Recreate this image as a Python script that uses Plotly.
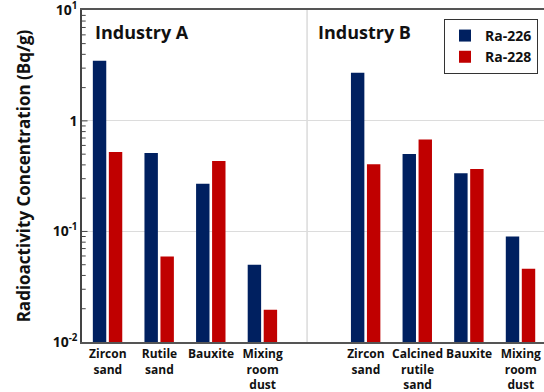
import plotly.graph_objects as go

# Sample categories, laid out as two industry panels on one shared axis
industry_a = ["Zircon<br>sand", "Rutile<br>sand", "Bauxite", "Mixing<br>room<br>dust"]
industry_b = ["Zircon<br>sand", "Calcined<br>rutile<br>sand", "Bauxite", "Mixing<br>room<br>dust"]
positions = [0, 1, 2, 3, 5, 6, 7, 8]
categories = industry_a + industry_b

# Radioactivity concentration (Bq/g)
ra226 = [3.5, 0.513, 0.270, 0.0499, 2.72, 0.502, 0.336, 0.090]
ra228 = [0.524, 0.0593, 0.434, 0.0196, 0.405, 0.678, 0.367, 0.0459]

y_tickvals = [0.01, 0.1, 1, 10]
y_ticktext = ["10<sup>-2</sup>", "10<sup>-1</sup>", "1", "10<sup>1</sup>"]
# minor ticks at 2..9 within each decade
y_minor = [m * d for d in (0.01, 0.1, 1) for m in range(2, 10)]

NAVY = "#002060"
RED = "#C00000"
FONT = "Open Sans"
Y_RANGE = [-2, 1.003]

fig = go.Figure()
fig.add_trace(go.Bar(
    x=positions, y=ra226, name="<b>Ra-226</b>", marker=dict(color=NAVY, line=dict(width=0)),
    width=0.26, offset=-0.29,
))
fig.add_trace(go.Bar(
    x=positions, y=ra228, name="<b>Ra-228</b>", marker=dict(color=RED, line=dict(width=0)),
    width=0.26, offset=0.02,
))

# Divider between the two industries
fig.add_shape(type="line", xref="x", yref="paper", x0=3.86, x1=3.86, y0=0, y1=1,
              line=dict(color="#c8c8c8", width=1), layer="below")

# Inward tick marks along the log axis (minor 2..9, major at each decade)
for v in y_minor:
    fig.add_shape(type="line", xref="paper", yref="y", x0=0, x1=0.008, y0=v, y1=v,
                  line=dict(color="#444", width=1))
for v in y_tickvals[1:3]:
    fig.add_shape(type="line", xref="paper", yref="y", x0=0, x1=0.012, y0=v, y1=v,
                  line=dict(color="#444", width=1))

fig.add_annotation(text="<b>Industry A</b>", xref="x", yref="paper", x=-0.28, y=0.975,
                   xanchor="left", yanchor="top", showarrow=False,
                   font=dict(family=FONT, size=18, color="#111"))
fig.add_annotation(text="<b>Industry B</b>", xref="x", yref="paper", x=4.03, y=0.975,
                   xanchor="left", yanchor="top", showarrow=False,
                   font=dict(family=FONT, size=18, color="#111"))

fig.update_layout(
    width=544, height=392,
    margin=dict(l=82, r=0, t=10, b=50),
    plot_bgcolor="white", paper_bgcolor="white",
    font=dict(family=FONT, color="#111"),
    barmode="overlay",
    showlegend=True,
    legend=dict(x=0.987, y=0.973, xanchor="right", yanchor="top",
                bordercolor="#333", borderwidth=1, bgcolor="white",
                font=dict(family=FONT, size=14, color="#111"),
                itemwidth=30, tracegroupgap=4),
)
fig.update_xaxes(
    range=[-0.5, 8.45], tickmode="array", tickvals=positions,
    ticktext=["<b>" + c + "</b>" for c in categories],
    tickfont=dict(family=FONT, size=12, color="#111"),
    showline=True, linecolor="#555", linewidth=1.5, mirror=True,
    showgrid=False, ticks="", zeroline=False,
)
fig.update_yaxes(
    type="log", range=Y_RANGE, automargin=False, ticklabeloverflow="allow",
    tickmode="array", tickvals=y_tickvals, ticktext=y_ticktext,
    tickfont=dict(family=FONT, size=14, color="#111", weight="bold"),
    showline=True, linecolor="#444", linewidth=1.5,
    showgrid=True, gridcolor="#dcdcdc", gridwidth=1,
    ticks="",
    title=dict(text="Radioactivity Concentration (Bq/g)",
               font=dict(family=FONT, size=17, color="#111", weight="bold"), standoff=18),
    zeroline=False,
)

fig.write_html("out.html")
